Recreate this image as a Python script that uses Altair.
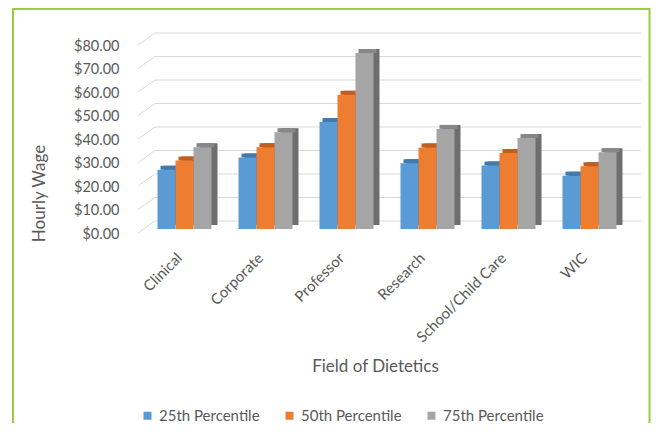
import altair as alt
import pandas as pd

categories = ["Clinical", "Corporate", "Professor", "Research", "School/Child Care", "WIC"]
series = ["25th Percentile", "50th Percentile", "75th Percentile"]
p25 = [25.2, 30.4, 45.5, 28.0, 27.0, 22.7]
p50 = [29.1, 34.8, 57.1, 34.7, 32.3, 26.7]
p75 = [34.8, 41.2, 74.9, 42.6, 38.7, 32.7]
tick_values = [0, 10, 20, 30, 40, 50, 60, 70, 80]

front_colors = ["#5B9BD5", "#ED7D31", "#A5A5A5"]
top_colors = ["#4279AE", "#BF5E1F", "#878787"]
side_colors = ["#3A6794", "#A9501A", "#6E6E6E"]

rows = []
for s, vals in zip(series, [p25, p50, p75]):
    for c, v in zip(categories, vals):
        rows.append({"cat": c, "series": s, "value": v})
df = pd.DataFrame(rows)
grid_df = pd.DataFrame({"v": tick_values})
one = pd.DataFrame({"a": [0]})

W, H = 486, 188
TXT = "#595959"
FONT = "Lato"

xscale = alt.Scale(domain=categories, paddingInner=1 / 3, paddingOuter=1 / 6)
yscale = alt.Scale(domain=[0, 80], nice=False, zero=True)

xaxis = alt.Axis(labelAngle=-45, labelAlign="right", labelBaseline="middle",
                 domain=False, ticks=False, labelPadding=26, labelOffset=-5,
                 labelFont=FONT, labelFontSize=15, labelColor=TXT,
                 title="Field of Dietetics", titleFont=FONT, titleFontSize=17,
                 titleFontWeight="normal", titleColor=TXT, titleX=231, titleY=137,
                 titleAlign="center", titleBaseline="middle")
yaxis = alt.Axis(values=tick_values, format="$.2f", grid=False, domain=False, ticks=False,
                 labelPadding=25, labelOffset=5, labelFont=FONT, labelFontSize=14.5,
                 labelColor=TXT, title="Hourly Wage", titleFont=FONT, titleFontSize=17,
                 titleFontWeight="normal", titleColor=TXT, titleAngle=-90,
                 titleX=-105, titleY=152, titleAlign="center", titleBaseline="middle")

grid_back = alt.Chart(grid_df).mark_rule(color="#D9D9D9", strokeWidth=1, yOffset=-8).encode(
    y=alt.Y("v:Q", scale=yscale, axis=yaxis),
    x=alt.value(11), x2=alt.value(497),
)
grid_oblique = alt.Chart(grid_df).mark_rule(color="#D9D9D9", strokeWidth=1, yOffset=4, y2Offset=-8).encode(
    y=alt.Y("v:Q", scale=yscale, axis=yaxis),
    y2=alt.Y2("v:Q"),
    x=alt.value(-6), x2=alt.value(11),
)

xenc = alt.X("cat:N", sort=categories, scale=xscale, axis=xaxis)

side = alt.Chart(df).mark_bar(yOffset=-4, y2Offset=-3).encode(
    x=xenc,
    xOffset=alt.XOffset("series:N", sort=series, scale=alt.Scale(domain=series, range=[6, 60])),
    y=alt.Y("value:Q", scale=yscale, axis=yaxis),
    color=alt.Color("series:N", scale=alt.Scale(domain=series, range=side_colors), legend=None),
)
top = alt.Chart(df).mark_bar(yOffset=-4, y2Offset=0).encode(
    x=xenc,
    xOffset=alt.XOffset("series:N", sort=series, scale=alt.Scale(domain=series, range=[3, 57])),
    y=alt.Y("value:Q", scale=yscale, axis=yaxis),
    y2=alt.Y2("value:Q"),
    color=alt.Color("series:N", scale=alt.Scale(domain=series, range=top_colors), legend=None),
)
front = alt.Chart(df).mark_bar().encode(
    x=xenc,
    xOffset=alt.XOffset("series:N", sort=series, scale=alt.Scale(domain=series, range=[0, 54])),
    y=alt.Y("value:Q", scale=yscale, axis=yaxis),
    color=alt.Color("series:N", scale=alt.Scale(domain=series, range=front_colors),
                    legend=alt.Legend(orient="none", legendX=-4, legendY=367, direction="horizontal",
                                      title=None, symbolType="square", symbolSize=64,
                                      symbolStrokeWidth=0, labelFont=FONT, labelFontSize=15,
                                      labelColor=TXT, labelOffset=4, columnPadding=22)),
)

border = alt.Chart(one).mark_rect(fill="transparent", stroke="#9BCB3F", strokeWidth=2).encode(
    x=alt.value(-131), x2=alt.value(505.5), y=alt.value(-32), y2=alt.value(H + 250)
)

chart = alt.layer(grid_back, grid_oblique, side, top, front, border).resolve_scale(
    xOffset="independent", color="independent"
).properties(
    width=W, height=H,
    padding={"left": 136, "top": 33, "right": 21, "bottom": 194},
    autosize="none",
).configure_view(strokeWidth=0)

chart.save("out.html", embed_options={"renderer": "svg", "actions": False})
